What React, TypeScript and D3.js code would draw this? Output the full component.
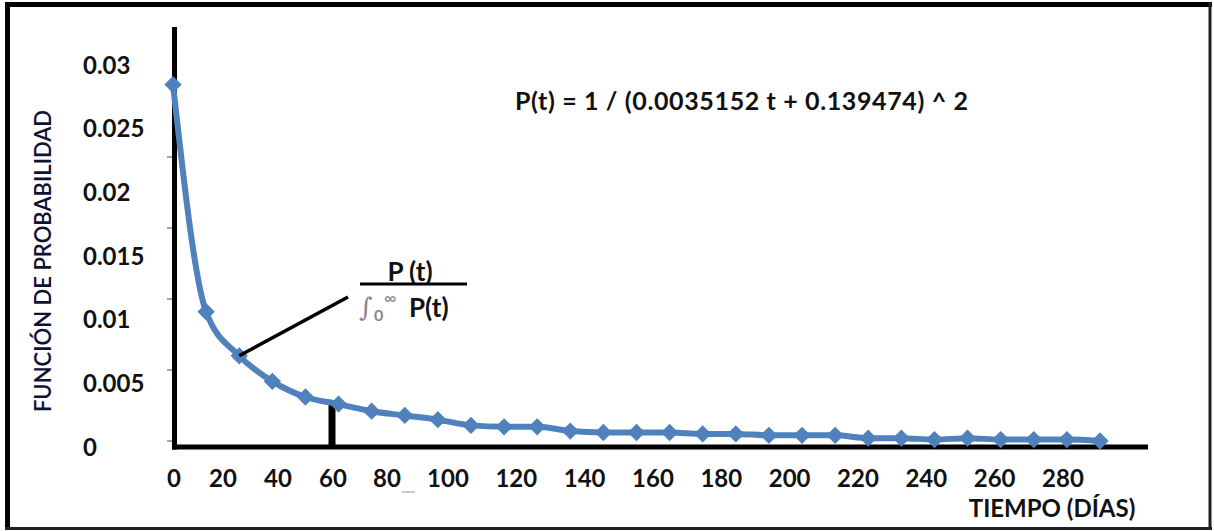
import React from "react";
import * as d3 from "d3";

const days = [0, 10, 20, 30, 40, 50, 60, 70, 80, 90, 100, 110, 120, 130, 140, 150, 160, 170, 180, 190, 200, 210, 220, 230, 240, 250, 260, 270, 280];
const probability = [0.0251, 0.0091, 0.006, 0.0042, 0.0031, 0.0026, 0.0021, 0.0018, 0.0015, 0.0011, 0.001, 0.001, 0.0007, 0.0006, 0.0006, 0.0006, 0.0005, 0.0005, 0.0004, 0.0004, 0.0004, 0.0002, 0.0002, 0.0001, 0.0002, 0.0001, 0.0001, 0.0001, 0.0];
const yTickValues = [0, 0.005, 0.01, 0.015, 0.02, 0.025, 0.03];
const yTickLabels = ["0", "0.005", "0.01", "0.015", "0.02", "0.025", "0.03"];
const yTickMarks = [0, 0.005, 0.01, 0.015, 0.02, 0.025];
const xTickValues = [0, 20, 40, 60, 80, 100, 120, 140, 160, 180, 200, 220, 240, 260, 280];
const xTickLabels = ["0", "20", "40", "60", "80", "100", "120", "140", "160", "180", "200", "220", "240", "260", "280"];
const markedDay = 60;
const markedValue = 0.0027;

const FONT = "Lato, 'Open Sans', sans-serif";
const BLUE = "#4F81BD";
const INK = "#111";

export default function App() {
  const x = d3.scaleLinear().domain([0, 280]).range([173, 1100]);
  const y = d3.scaleLinear().domain([0, 0.025]).range([441, 86]);
  const yLabel = d3.scaleLinear().domain([0, 0.03]).range([447, 65]);
  const xLabel = d3.scaleLinear().domain([0, 20, 40, 60, 80, 100, 280]).range([174, 223, 278, 333, 387, 448, 1063]);

  const line = d3
    .line<number>()
    .x((_, i) => x(days[i]))
    .y((d) => y(d))
    .curve(d3.curveMonotoneX);
  const diamond = d3.symbol().type(d3.symbolSquare).size(150)();

  const axisBottom = 447;
  const p2 = { x: x(days[2]), y: y(probability[2]) };

  return (
    <svg width={1214} height={531} style={{ position: "absolute", left: 0, top: 0, background: "#fff" }}>
      <rect x={0} y={0} width={1214} height={531} fill="#fff" />
      {/* frame */}
      <line x1={7.5} y1={2} x2={7.5} y2={530} stroke="#000" strokeWidth={5} />
      <line x1={5} y1={4.5} x2={1212} y2={4.5} stroke="#000" strokeWidth={5} />
      <line x1={1210} y1={2} x2={1210} y2={530} stroke="#222" strokeWidth={3} />
      <line x1={5} y1={528.5} x2={1212} y2={528.5} stroke="#222" strokeWidth={3} />

      {/* y tick marks */}
      {yTickMarks.map((v) => (
        <line key={v} x1={167} x2={176} y1={y(v)} y2={y(v)} stroke="#888" strokeWidth={1.5} />
      ))}

      {/* axes */}
      <line x1={174.5} y1={27} x2={174.5} y2={449.5} stroke="#000" strokeWidth={5} />
      <line x1={172} y1={axisBottom} x2={1148} y2={axisBottom} stroke="#000" strokeWidth={5} />

      {/* y tick labels */}
      {yTickValues.map((v, i) => (
        <text key={v} x={83} y={yLabel(v)} dy="0.36em" fontFamily={FONT} fontWeight="bold" fontSize={24} fill={INK}>
          {yTickLabels[i]}
        </text>
      ))}

      {/* x tick labels */}
      {xTickValues.map((v, i) => (
        <text key={v} x={xLabel(v)} y={478} dy="0.36em" textAnchor="middle" fontFamily={FONT} fontWeight="bold" fontSize={24} fill={INK}>
          {xTickLabels[i]}
        </text>
      ))}
      <line x1={402} x2={415} y1={492} y2={492} stroke="#bbb" strokeWidth={1.5} />

      {/* axis titles */}
      <text
        transform={`translate(43,261) rotate(-90)`}
        dy="0.36em"
        textAnchor="middle"
        fontFamily={FONT}
        fontSize={22}
        fontWeight={600}
        fill="#111133"
      >
        FUNCIÓN DE PROBABILIDAD
      </text>
      <text x={1052} y={508} dy="0.36em" textAnchor="middle" fontFamily={FONT} fontWeight="bold" fontSize={24} fill={INK}>
        TIEMPO (DÍAS)
      </text>

      {/* marker bar at t=60 */}
      <line x1={xLabel(markedDay) - 1} x2={xLabel(markedDay) - 1} y1={y(markedValue)} y2={axisBottom} stroke="#000" strokeWidth={7} />

      {/* series */}
      <path d={line(probability) || ""} fill="none" stroke={BLUE} strokeWidth={6} strokeLinejoin="round" />
      {probability.map((v, i) => (
        <path key={i} d={diamond || ""} transform={`translate(${x(days[i])},${y(v)}) rotate(45)`} fill={BLUE} />
      ))}

      {/* leader line + fraction annotation */}
      <line x1={p2.x} y1={p2.y} x2={348} y2={297} stroke="#000" strokeWidth={3.5} />
      <text x={410} y={272} dy="0.36em" textAnchor="middle" fontFamily={FONT} fontWeight="bold" fontSize={26} fill={INK}>
        P (t)
      </text>
      <line x1={360} x2={467} y1={284} y2={284} stroke="#000" strokeWidth={3} />
      <text x={359} y={316} fontFamily="'DejaVu Serif', serif" fontSize={26} fill="#888">
        ∫
      </text>
      <text x={374} y={321} fontFamily={FONT} fontWeight="bold" fontSize={16} fill="#888">
        0
      </text>
      <text x={384} y={304} fontFamily={FONT} fontWeight="bold" fontSize={17} fill="#999">
        ∞
      </text>
      <text x={409} y={317} fontFamily={FONT} fontWeight="bold" fontSize={26} fill={INK}>
        P(t)
      </text>

      {/* formula */}
      <text x={515} y={101} dy="0.36em" fontFamily={FONT} fontWeight="bold" fontSize={25} textLength={453} lengthAdjust="spacing" fill={INK}>
        P(t) = 1 / (0.0035152 t + 0.139474) ^ 2
      </text>
    </svg>
  );
}
